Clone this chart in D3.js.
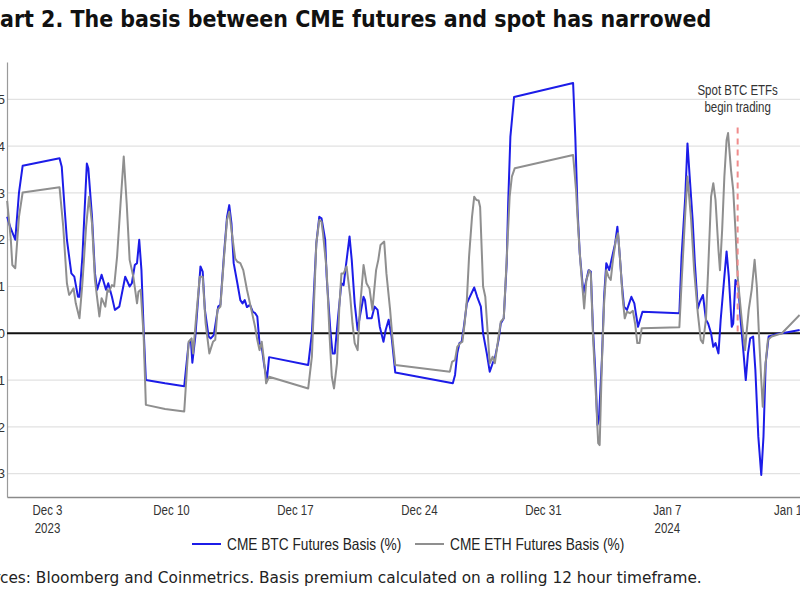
<!DOCTYPE html>
<html><head><meta charset="utf-8">
<script src="https://cdn.jsdelivr.net/npm/d3@7"></script>
<style>body{margin:0;background:#fff;overflow:hidden} svg{display:block;background:#fff}</style>
</head><body><svg id="chart" width="800" height="600"></svg>
<script>
const titleText = "Chart 2. The basis between CME futures and spot has narrowed";
const sourceText = "Sources: Bloomberg and Coinmetrics. Basis premium calculated on a rolling 12 hour timeframe.";
const seriesNames = ["CME BTC Futures Basis (%)", "CME ETH Futures Basis (%)"];
const baseDate = "2023-12-01T00:00:00Z"; // hours below are counted from this instant

const btcHours = [-6,-2,5,10,15,65,68,72,75,81,85,90,92,96,102,104,109,113,116,122,128,131,136,140,146,154,160,163,167,170,173,176,179,182,208,
  234,240,243,245,249,252,256,259,262,267,270,274,278,280,283,288,292,295,298,301,306,310,313,316,319,323,327,330,333,336,339,342,346,349,
  402,407,410,413,417,420,422,425,427,432,435,438,443,447,450,453,458,461,465,469,472,477,479,482,488,492,496,499,504,507,511,515,520,
  598,601,604,607,610,613,617,621,627,631,636,639,644,648,652,655,660,663,667,671,673,676,681,
  761,764,767,770,775,778,782,785,788,791,794,796,800,803,806,810,813,818,821,824,827,830,834,837,840,844,846,849,855,
  905,908,913,916,919,923,926,930,933,937,941,944,948,951,954,958,961,966,969,972,976,978,981,985,988,992,995,998,1001,1005,1008,1012,1016,1019,1022,1026,1039,1048,1068];
const btcValues = [2.49,2.28,2.0,3.0,3.58,3.74,3.56,2.64,2.0,1.28,1.21,0.78,0.78,1.64,3.63,3.53,2.49,1.28,0.93,1.25,0.93,1.07,0.78,0.5,0.57,1.21,1.0,1.07,1.46,1.5,2.0,1.35,0.07,-1.0,-1.07,
  -1.13,-0.21,-0.14,-0.63,-0.07,0.57,1.43,1.32,0.5,-0.07,-0.11,-0.04,0.36,0.57,0.61,1.71,2.49,2.74,2.35,1.5,1.07,0.71,0.64,0.71,0.56,0.61,0.46,0.43,0.36,-0.21,-0.29,-0.64,-1.0,-0.51,
  -0.68,0.0,0.96,1.92,2.49,2.46,2.28,2.0,1.21,0.07,-0.43,-0.43,0.43,1.07,1.03,1.43,2.07,1.57,0.64,0.07,0.36,0.78,0.71,0.32,0.32,0.57,0.5,0.14,-0.18,0.07,0.29,-0.07,-0.84,
  -1.07,-0.89,-0.43,-0.21,-0.18,0.14,0.64,0.78,0.98,0.78,0.57,0.0,-0.43,-0.82,-0.64,-0.53,-0.14,0.21,0.32,1.5,2.78,4.2,5.05,
  5.35,4.2,2.64,1.71,0.86,1.07,1.35,1.32,0.07,-0.78,-1.96,-1.85,-0.57,0.78,1.5,1.35,1.57,1.92,2.28,1.71,1.07,0.57,0.5,0.64,0.78,0.64,0.43,0.14,0.46,
  0.43,1.64,2.92,4.06,3.35,2.42,1.5,0.53,0.68,0.82,0.29,0.21,0.0,-0.29,-0.21,-0.43,0.29,1.21,1.75,1.21,0.14,0.21,1.14,1.0,0.29,-0.43,-1.0,-0.43,-0.11,-0.07,-0.78,-2.21,-3.03,-2.21,-0.64,-0.07,-0.01,0.01,0.07];

const ethHours = [-6,-1,1,5,10,15,65,70,75,78,80,84,87,92,96,101,105,109,113,119,122,127,130,132,136,139,143,148,152,156,160,165,170,172,175,179,182,208,
  234,240,244,246,250,255,259,263,268,273,276,279,283,288,292,295,298,303,306,310,314,319,325,330,333,336,339,342,345,349,
  402,407,410,413,417,420,422,427,431,434,437,441,444,447,450,454,459,462,465,469,472,477,481,485,489,494,497,500,505,508,513,516,520,
  594,597,601,604,608,611,614,617,620,624,627,630,633,635,639,642,645,648,652,655,660,663,667,671,675,678,682,
  761,765,768,771,776,779,783,785,788,792,795,797,800,803,806,809,812,815,819,822,825,828,831,834,838,842,845,848,851,854,
  905,908,913,916,921,925,930,934,937,941,944,948,951,954,958,960,963,966,969,971,975,978,981,984,987,990,994,996,999,1003,1007,1010,1013,1016,1018,1021,1025,1030,1044,1068];
const ethValues = [2.83,2.0,1.46,1.39,2.49,3.01,3.12,2.28,1.07,0.82,0.86,0.96,0.64,0.32,1.07,2.28,2.92,2.35,1.14,0.36,0.75,0.57,0.93,0.89,1.03,1.0,1.64,2.85,3.78,2.78,1.57,1.21,0.64,0.89,0.93,-0.07,-1.53,-1.62,
  -1.67,-0.18,-0.11,-0.43,0.32,1.21,1.21,0.21,-0.43,-0.18,-0.14,0.5,0.57,1.64,2.42,2.6,2.21,1.6,1.53,1.5,1.35,0.93,0.5,0.14,-0.14,-0.36,-0.18,-0.57,-1.07,-0.93,
  -1.18,-0.5,0.71,1.92,2.42,2.39,2.14,1.35,-0.07,-0.93,-1.18,-0.64,0.5,1.28,1.28,1.43,0.78,0.21,-0.21,-0.36,0.5,1.46,1.07,0.96,0.5,1.35,1.57,1.89,1.96,1.28,0.5,-0.07,-0.68,
  -0.82,-0.61,-0.57,-0.29,-0.21,-0.18,0.21,0.71,1.64,2.49,2.92,2.85,2.84,2.7,1.0,0.78,0.07,-0.64,-0.5,-0.64,-0.07,0.25,0.32,1.57,2.92,3.35,3.53,
  3.81,3.06,2.21,1.5,0.53,1.14,1.35,1.28,-0.07,-1.35,-2.35,-2.39,-0.64,0.64,1.35,1.21,1.14,1.57,2.0,2.14,1.5,0.78,0.32,0.46,0.43,0.48,0.21,-0.21,-0.21,0.11,
  0.13,1.07,2.57,3.35,2.42,1.35,0.43,-0.14,-0.21,0.29,1.35,2.92,3.21,2.85,1.78,1.35,2.21,3.35,4.13,4.28,3.49,3.06,2.21,1.21,0.71,0.21,-0.36,0.0,0.5,0.93,1.57,1.0,-0.07,-1.0,-1.57,-0.78,-0.14,-0.07,0.0,0.39];

const xTickDates = ["2023-12-03","2023-12-10","2023-12-17","2023-12-24","2023-12-31","2024-01-07","2024-01-14"];
const xTickLabels = ["Dec 3","Dec 10","Dec 17","Dec 24","Dec 31","Jan 7","Jan 14"];
const xYearLabels = ["2023","","","","","2024",""];
const yTicks = [-3,-2,-1,0,1,2,3,4,5];
const etfDate = "2024-01-11";
const etfTopValue = 4.4;
const etfLabel = ["Spot BTC ETFs","begin trading"];
const xDomainHours = [-6.2, 1068.5];
const yDomain = [-3.5, 5.8];

// ---------- drawing ----------
const svg = d3.select("#chart");
const plot = {left: 7, right: 800, top: 62, bottom: 497};
const base = new Date(baseDate);
const hourToDate = h => new Date(base.getTime() + h * 3600e3);
const parseDay = s => new Date(s + "T00:00:00Z");

const x = d3.scaleUtc().domain(xDomainHours.map(hourToDate)).range([plot.left, plot.right]);
const y = d3.scaleLinear().domain(yDomain).range([plot.bottom, plot.top]);

const sans = "'Liberation Sans',Arial,sans-serif";
// emulate a narrow sans face by compressing the natural text width
function narrowText(sel, factor) {
  sel.each(function() {
    const w = this.getComputedTextLength();
    d3.select(this).attr("textLength", w * factor).attr("lengthAdjust", "spacingAndGlyphs");
  });
  return sel;
}

// gridlines
svg.append("g").selectAll("line").data(yTicks.filter(v => v !== 0)).join("line")
  .attr("x1", plot.left).attr("x2", plot.right)
  .attr("y1", d => y(d)).attr("y2", d => y(d))
  .attr("stroke", "#e2e2e2").attr("stroke-width", 1.2);

// y axis
const yAxis = svg.append("g").attr("transform", `translate(${plot.left},0)`)
  .call(d3.axisLeft(y).tickValues(yTicks).tickSize(0).tickPadding(2).tickFormat(d3.format("d")));
yAxis.select(".domain").attr("stroke", "#9a9a9a").attr("stroke-width", 1.2);
yAxis.selectAll("text").attr("font-family", sans).attr("font-size", 13).attr("fill", "#333");

// x axis
const xAxis = svg.append("g").attr("transform", `translate(0,${plot.bottom})`)
  .call(d3.axisBottom(x).tickValues(xTickDates.map(parseDay)).tickSize(0).tickSizeOuter(0).tickFormat((d, i) => xTickLabels[i]));
xAxis.select(".domain").attr("stroke", "#8a8a8a").attr("stroke-width", 1.5);
xAxis.selectAll(".tick").each(function(d, i) {
  const g = d3.select(this);
  g.select("text").remove();
  const t1 = g.append("text").attr("x", 0).attr("y", 18).attr("text-anchor", "middle")
    .attr("font-family", sans).attr("font-size", 14).attr("fill", "#333").text(xTickLabels[i]);
  narrowText(t1, 0.82);
  if (xYearLabels[i]) {
    const t2 = g.append("text").attr("x", 0).attr("y", 36).attr("text-anchor", "middle")
      .attr("font-family", sans).attr("font-size", 14).attr("fill", "#333").text(xYearLabels[i]);
    narrowText(t2, 0.82);
  }
});

// zero line
svg.append("line").attr("x1", plot.left).attr("x2", plot.right)
  .attr("y1", y(0)).attr("y2", y(0)).attr("stroke", "#111").attr("stroke-width", 2);

// series
const btc = btcHours.map((h, i) => ({t: hourToDate(h), v: btcValues[i]}));
const eth = ethHours.map((h, i) => ({t: hourToDate(h), v: ethValues[i]}));
const line = d3.line().x(d => x(d.t)).y(d => y(d.v));
const colors = ["#1c1ce8", "#8f8f8f"];

svg.append("path").datum(btc).attr("d", line).attr("fill", "none")
  .attr("stroke", colors[0]).attr("stroke-width", 2).attr("stroke-linejoin", "round");
svg.append("path").datum(eth).attr("d", line).attr("fill", "none")
  .attr("stroke", colors[1]).attr("stroke-width", 2).attr("stroke-linejoin", "round");

// ETF annotation
const ex = x(parseDay(etfDate));
svg.append("line").attr("x1", ex).attr("x2", ex).attr("y1", y(etfTopValue)).attr("y2", y(0))
  .attr("stroke", "#f08c8c").attr("stroke-width", 2).attr("stroke-dasharray", "6,5");
etfLabel.forEach((s, i) => {
  const t = svg.append("text").attr("x", ex).attr("y", 95 + i * 17).attr("text-anchor", "middle")
    .attr("font-family", sans).attr("font-size", 14).attr("fill", "#333").text(s);
  narrowText(t, 0.82);
});

// legend
const legendItems = [{x: 192, color: colors[0], name: seriesNames[0]}, {x: 415, color: colors[1], name: seriesNames[1]}];
const lg = svg.append("g");
legendItems.forEach(it => {
  lg.append("line").attr("x1", it.x).attr("x2", it.x + 29).attr("y1", 544).attr("y2", 544)
    .attr("stroke", it.color).attr("stroke-width", 2);
  const t = lg.append("text").attr("x", it.x + 35).attr("y", 550)
    .attr("font-family", sans).attr("font-size", 16.5).attr("fill", "#222").text(it.name);
  narrowText(t, 0.83);
});

// cropped title & source: full text, shifted so that the visible part lines up with the picture edge
function placeCropped(sel, full, prefixLen, startX, endX) {
  sel.text(full);
  const node = sel.node();
  const restW = node.getSubStringLength(prefixLen, full.length - prefixLen);
  const fs = parseFloat(sel.attr("font-size")) * (endX - startX) / restW;
  sel.attr("font-size", fs);
  const preW = node.getSubStringLength(0, prefixLen);
  sel.attr("x", startX - preW);
}
const title = svg.append("text").attr("y", 27).attr("font-size", 20)
  .attr("font-family", "'DejaVu Sans Condensed','DejaVu Sans',Verdana,sans-serif")
  .attr("font-stretch", "condensed").attr("font-weight", "bold").attr("fill", "#111");
placeCropped(title, titleText, 2, 0, 712);

const source = svg.append("text").attr("y", 583).attr("font-size", 14)
  .attr("font-family", "'DejaVu Sans',Verdana,sans-serif").attr("fill", "#222");
placeCropped(source, sourceText, 4, 0, 702);
</script>
</body></html>
